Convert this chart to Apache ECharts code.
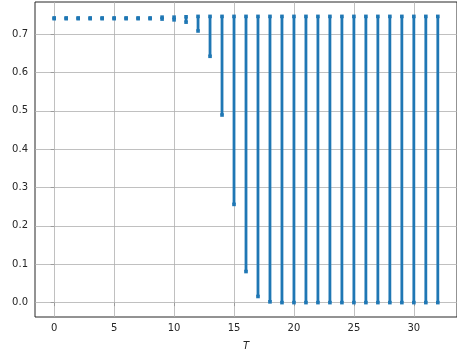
<!DOCTYPE html>
<html><head><meta charset="utf-8">
<script src="https://cdn.jsdelivr.net/npm/echarts@6/dist/echarts.min.js"></script>
<style>html,body{margin:0;padding:0;background:#fff}#c{width:457px;height:359px}</style>
</head><body><div id="c"></div>
<script>
// Column positions (T) and the vertical extent of the points at each T
const T = [0,1,2,3,4,5,6,7,8,9,10,11,12,13,14,15,16,17,18,19,20,21,22,23,24,25,26,27,28,29,30,31,32];
const lo = [0.740,0.740,0.740,0.740,0.740,0.740,0.740,0.740,0.740,0.739,0.737,0.731,0.708,0.642,0.489,0.256,0.081,0.016,0.002,0.0,0.0,0.0,0.0,0.0,0.0,0.0,0.0,0.0,0.0,0.0,0.0,0.0,0.0];
const hi = [0.742,0.742,0.742,0.742,0.742,0.742,0.742,0.742,0.742,0.744,0.744,0.745,0.746,0.746,0.746,0.746,0.746,0.746,0.746,0.746,0.746,0.746,0.746,0.746,0.746,0.746,0.746,0.746,0.746,0.746,0.746,0.746,0.746];
const xTicks = [0,5,10,15,20,25,30];
const yTicks = [0.0,0.1,0.2,0.3,0.4,0.5,0.6,0.7];

const color = '#1f77b4';
const txt = '#262626';
const font = 'DejaVu Sans';
const data = T.map((t,i)=>[t, lo[i], hi[i]]);

const chart = echarts.init(document.getElementById('c'), null, {renderer:'canvas'});
chart.setOption({
  animation:false,
  grid:{left:35, right:0, top:2, bottom:42, show:true, borderColor:txt, borderWidth:1, backgroundColor:'transparent'},
  xAxis:{type:'value', min:-1.6, max:33.6,
    axisLine:{show:false},
    axisTick:{show:true, customValues:xTicks, length:3.5, lineStyle:{color:txt, width:0.8}},
    axisLabel:{customValues:xTicks, color:txt, fontFamily:font, fontSize:10, margin:6, formatter:v=>String(Math.round(v))},
    splitLine:{show:false},
    name:'T', nameLocation:'middle', nameGap:24,
    nameTextStyle:{color:txt, fontFamily:font, fontSize:10, fontStyle:'italic'}
  },
  yAxis:{type:'value', min:-0.0375, max:0.7835,
    axisLine:{show:false},
    axisTick:{show:true, customValues:yTicks, length:3.5, lineStyle:{color:txt, width:0.8}},
    axisLabel:{customValues:yTicks, color:txt, fontFamily:font, fontSize:10, margin:7, formatter:v=>v.toFixed(1)},
    splitLine:{show:false}
  },
  series:[
    {type:'line', data:[], silent:true, z:1,
      markLine:{silent:true, symbol:'none', label:{show:false},
        lineStyle:{color:'#b0b0b0', width:0.8, type:'solid'},
        data: xTicks.map(v=>({xAxis:v})).concat(yTicks.map(v=>({yAxis:v})))
      }
    },
    {type:'custom', z:5, data:data, clip:true,
      renderItem:function(params, api){
        const x = api.value(0);
        const p1 = api.coord([x, api.value(1)]);
        const p2 = api.coord([x, api.value(2)]);
        const w = 2.8, s = 3.6;
        return {type:'group', children:[
          {type:'rect', shape:{x:p1[0]-w/2, y:p2[1], width:w, height:Math.max(p1[1]-p2[1],0.5)}, style:{fill:color}},
          {type:'rect', shape:{x:p2[0]-s/2, y:p2[1]-s/2, width:s, height:s}, style:{fill:color}},
          {type:'rect', shape:{x:p1[0]-s/2, y:p1[1]-s/2, width:s, height:s}, style:{fill:color}}
        ]};
      }
    }
  ]
});
</script></body></html>
